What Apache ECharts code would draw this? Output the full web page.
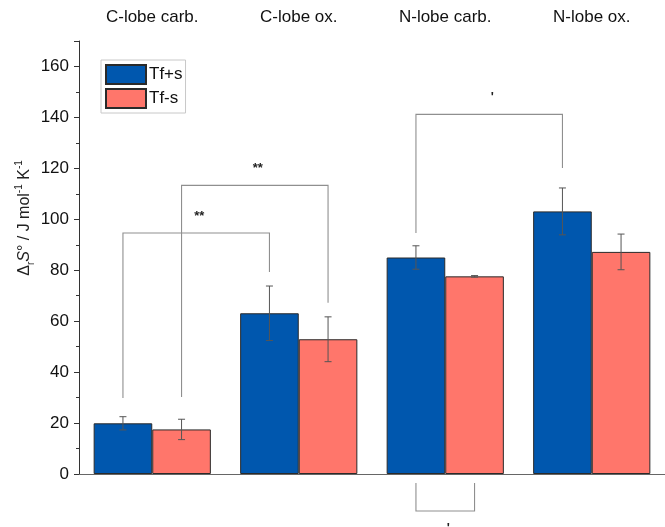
<!DOCTYPE html>
<html>
<head>
<meta charset="utf-8">
<script src="https://cdn.jsdelivr.net/npm/echarts@6/dist/echarts.min.js"></script>
<style>html,body{margin:0;padding:0;background:#fff;}#c{width:665px;height:527px;}</style>
</head>
<body>
<div id="c"></div>
<script>
const categories = ['C-lobe carb.', 'C-lobe ox.', 'N-lobe carb.', 'N-lobe ox.'];
const seriesNames = ['Tf+s', 'Tf-s'];
const tfPlusS = [19.9, 63.1, 85.0, 103.1];
const tfPlusSErr = [2.6, 10.7, 4.6, 9.2];
const tfMinusS = [17.5, 52.9, 77.6, 87.2];
const tfMinusSErr = [4.0, 8.8, 0.3, 7.0];
const yTicks = [0, 20, 40, 60, 80, 100, 120, 140, 160];
// [cat1, seriesIdx1, yEnd1, cat2, seriesIdx2, yEnd2, yBracket]
const brackets = [
  [0, 0, 29.8, 1, 0, 79.3, 94.6],
  [0, 1, 30.2, 1, 1, 67.2, 113.3],
  [2, 0, 94.6, 3, 0, 120.1, 141.2],
  [2, 0, -3.5, 2, 1, -3.5, -14.5]
];
const bracketLabels = ['**', '**', "'", "'"];

const colors = ['#0057AE', '#FF766B'];
const FONT = '"Liberation Sans", Arial, sans-serif';
const CAT_GAP = 0.2;

function barHalf(api) {
  const band = api.size([1, 0])[0];
  return band * (1 - CAT_GAP) / 4;
}

const errData = [];
[tfPlusS, tfMinusS].forEach((vals, s) => {
  const errs = s === 0 ? tfPlusSErr : tfMinusSErr;
  vals.forEach((v, i) => errData.push([i, v - errs[i], v + errs[i], s]));
});

const chart = echarts.init(document.getElementById('c'), null, {renderer: 'canvas'});
chart.setOption({
  animation: false,
  color: colors,
  grid: {left: 79, top: 41, width: 592, bottom: 53},
  legend: {
    left: 101, top: 60, orient: 'vertical',
    itemWidth: 40, itemHeight: 19, itemGap: 3, padding: [4, 3, 4, 4],
    borderColor: '#c8c8c8', borderWidth: 1,
    textStyle: {fontFamily: FONT, fontSize: 17, color: '#111', padding: [0, 0, 0, -2]},
    data: seriesNames.map(n => ({name: n, icon: 'rect'}))
  },
  graphic: [{
    type: 'text', x: 25, y: 218, rotation: Math.PI / 2, silent: true,
    style: {
      text: '{n|Δ}{sub|r}{i|S}{n|° / J mol}{sup|-1}{n| K}{sup|-1}',
      align: 'center', verticalAlign: 'middle',
      rich: {
        n: {fontFamily: FONT, fontSize: 16, fill: '#222', lineHeight: 22},
        i: {fontFamily: FONT, fontSize: 16, fontStyle: 'italic', fill: '#222', lineHeight: 22},
        sub: {fontFamily: FONT, fontSize: 10, fill: '#222', verticalAlign: 'bottom', lineHeight: 22},
        sup: {fontFamily: FONT, fontSize: 10, fill: '#222', verticalAlign: 'top', lineHeight: 22}
      }
    }
  }],
  xAxis: [
    {
      type: 'category', data: categories, position: 'top',
      axisLine: {lineStyle: {color: '#333', width: 1}},
      axisTick: {inside: true, alignWithLabel: true, length: 6, lineStyle: {color: '#333'}},
      axisLabel: {fontFamily: FONT, fontSize: 17, color: '#111', margin: 15},
      splitLine: {show: false}
    },
    {
      type: 'category', data: categories, position: 'bottom',
      axisLine: {lineStyle: {color: '#666', width: 1.2}},
      axisTick: {show: false}, axisLabel: {show: false}
    }
  ],
  yAxis: {
    type: 'value', min: 0, max: 170, interval: 20,
    axisLine: {show: true, lineStyle: {color: '#333'}},
    axisTick: {show: true, length: 5, lineStyle: {color: '#333'}},
    minorTick: {show: true, splitNumber: 2, length: 3, lineStyle: {color: '#333'}},
    splitLine: {show: false},
    axisLabel: {
      fontFamily: FONT, fontSize: 17, color: '#111', margin: 10, showMaxLabel: false,
      formatter: v => (yTicks.indexOf(v) >= 0 ? String(v) : '')
    }
  },
  series: [
    {
      name: seriesNames[0], type: 'bar', data: tfPlusS, barGap: '0%', barCategoryGap: '20%',
      itemStyle: {color: colors[0], borderColor: '#2a2a2a', borderWidth: 1}
    },
    {
      name: seriesNames[1], type: 'bar', data: tfMinusS, barGap: '0%', barCategoryGap: '20%',
      itemStyle: {color: colors[1], borderColor: '#2a2a2a', borderWidth: 1}
    },
    {
      type: 'custom', name: 'err', data: errData, z: 5, silent: true,
      encode: {x: 0, y: [1, 2]},
      renderItem: function (params, api) {
        const half = barHalf(api);
        const s = api.value(3);
        const base = api.coord([api.value(0), api.value(1)]);
        const top = api.coord([api.value(0), api.value(2)]);
        const x = base[0] + (s === 0 ? -half : half);
        const cap = 3.5;
        const st = {stroke: '#555', lineWidth: 1};
        return {
          type: 'group',
          children: [
            {type: 'line', shape: {x1: x, y1: base[1], x2: x, y2: top[1]}, style: st},
            {type: 'line', shape: {x1: x - cap, y1: base[1], x2: x + cap, y2: base[1]}, style: st},
            {type: 'line', shape: {x1: x - cap, y1: top[1], x2: x + cap, y2: top[1]}, style: st}
          ]
        };
      }
    },
    {
      type: 'custom', name: 'brackets', data: brackets, z: 6, silent: true, clip: false,
      encode: {x: 0, y: 2},
      renderItem: function (params, api) {
        const half = barHalf(api);
        const i = params.dataIndex;
        const p1 = api.coord([api.value(0), api.value(2)]);
        const p2 = api.coord([api.value(3), api.value(5)]);
        const yb = api.coord([api.value(0), api.value(6)])[1];
        const x1 = p1[0] + (api.value(1) === 0 ? -half : half);
        const x2 = p2[0] + (api.value(4) === 0 ? -half : half);
        const up = api.value(6) > api.value(2);
        const st = {stroke: '#8f8f8f', lineWidth: 1.1, fill: null};
        return {
          type: 'group',
          children: [
            {type: 'polyline', shape: {points: [[x1, p1[1]], [x1, yb], [x2, yb], [x2, p2[1]]]}, style: st},
            {type: 'text', style: {
              text: bracketLabels[i], x: (x1 + x2) / 2 + 3, y: up ? yb - 17 : yb + 17,
              fontFamily: FONT, fontSize: 13, fontWeight: 'bold', fill: '#222',
              align: 'center', verticalAlign: 'middle'
            }}
          ]
        };
      }
    }
  ]
});
</script>
</body>
</html>
